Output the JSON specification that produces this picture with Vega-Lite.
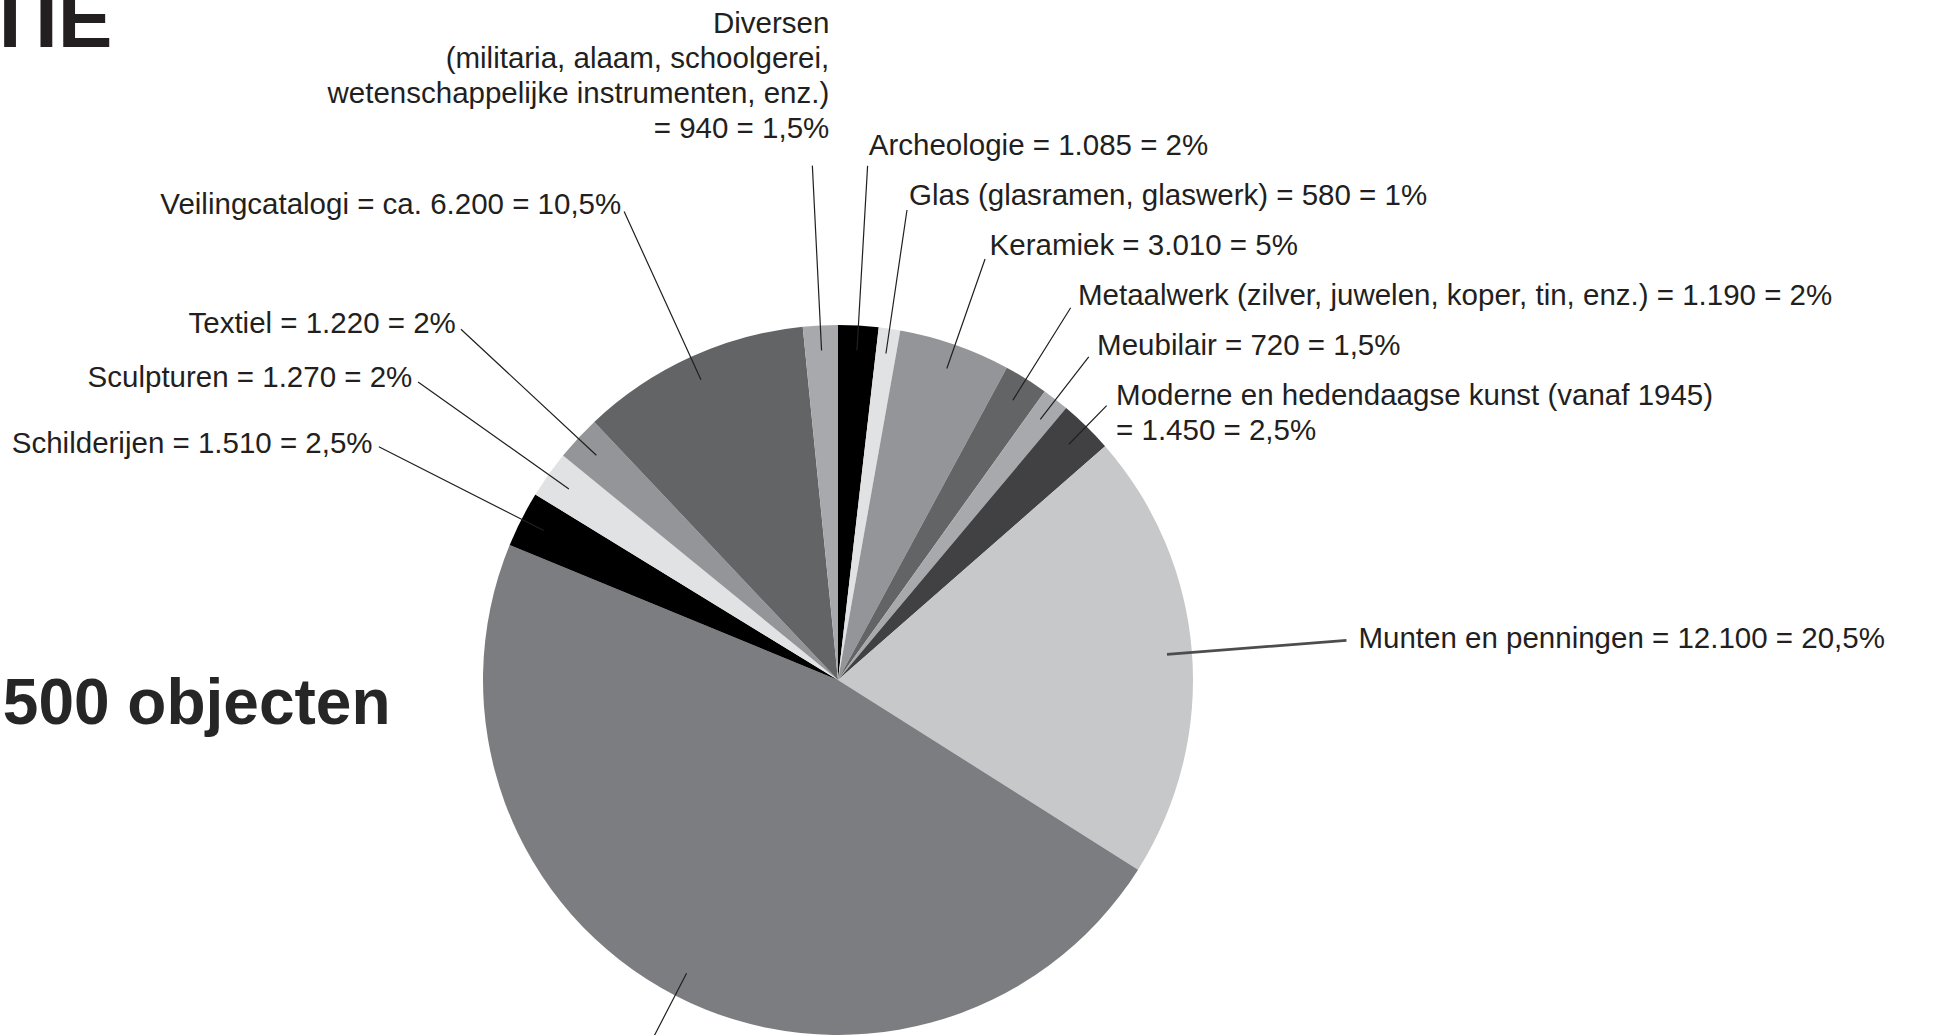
{
  "$schema": "https://vega.github.io/schema/vega-lite/v6.json",
  "autosize": {"type": "none"},
  "padding": {"left": 0, "top": 325, "right": 278, "bottom": 0},
  "width": 1676,
  "height": 710,
  "background": "#ffffff",
  "config": {"view": {"stroke": null}},
  "title": {
    "text": "TIE",
    "subtitle": ".500 objecten",
    "anchor": "start",
    "frame": "group",
    "dx": -15,
    "offset": -729,
    "font": "Liberation Sans",
    "fontSize": 82,
    "fontWeight": "bold",
    "color": "#231f20",
    "subtitleFont": "Liberation Sans",
    "subtitleFontSize": 64,
    "subtitleFontWeight": "bold",
    "subtitleColor": "#262626",
    "subtitlePadding": 609
  },
  "data": {
    "values": [
      {"categorie": "Archeologie", "aantal": 1085, "volgorde": 1, "label": "Archeologie = 1.085 = 2%"},
      {"categorie": "Glas", "aantal": 580, "volgorde": 2, "label": "Glas (glasramen, glaswerk) = 580 = 1%"},
      {"categorie": "Keramiek", "aantal": 3010, "volgorde": 3, "label": "Keramiek = 3.010 = 5%"},
      {"categorie": "Metaalwerk", "aantal": 1190, "volgorde": 4, "label": "Metaalwerk (zilver, juwelen, koper, tin, enz.) = 1.190 = 2%"},
      {"categorie": "Meubilair", "aantal": 720, "volgorde": 5, "label": "Meubilair = 720 = 1,5%"},
      {"categorie": "Moderne en hedendaagse kunst", "aantal": 1450, "volgorde": 6, "label": "Moderne en hedendaagse kunst (vanaf 1945)\n= 1.450 = 2,5%"},
      {"categorie": "Munten en penningen", "aantal": 12100, "volgorde": 7, "label": "Munten en penningen = 12.100 = 20,5%"},
      {"categorie": "Overige", "aantal": 28000, "volgorde": 8, "label": ""},
      {"categorie": "Schilderijen", "aantal": 1510, "volgorde": 9, "label": "Schilderijen = 1.510 = 2,5%"},
      {"categorie": "Sculpturen", "aantal": 1270, "volgorde": 10, "label": "Sculpturen = 1.270 = 2%"},
      {"categorie": "Textiel", "aantal": 1220, "volgorde": 11, "label": "Textiel = 1.220 = 2%"},
      {"categorie": "Veilingcatalogi", "aantal": 6200, "volgorde": 12, "label": "Veilingcatalogi = ca. 6.200 = 10,5%"},
      {"categorie": "Diversen", "aantal": 940, "volgorde": 13, "label": "Diversen\n(militaria, alaam, schoolgerei,\nwetenschappelijke instrumenten, enz.)\n= 940 = 1,5%"}
    ]
  },
  "encoding": {
    "theta": {"field": "aantal", "type": "quantitative", "stack": true},
    "order": {"field": "volgorde", "type": "quantitative"},
    "detail": {"field": "categorie", "type": "nominal"}
  },
  "layer": [
    {
      "mark": {"type": "arc", "radius": 355},
      "encoding": {
        "color": {
          "field": "categorie",
          "type": "nominal",
          "scale": {
            "domain": ["Archeologie", "Glas", "Keramiek", "Metaalwerk", "Meubilair", "Moderne en hedendaagse kunst", "Munten en penningen", "Overige", "Schilderijen", "Sculpturen", "Textiel", "Veilingcatalogi", "Diversen"],
            "range": ["#000000", "#e1e2e4", "#939598", "#636466", "#a7a9ac", "#414042", "#c7c8ca", "#7c7d81", "#000000", "#e1e2e4", "#939598", "#636466", "#a7a9ac"]
          },
          "legend": null
        }
      }
    },
    {
      "mark": {"type": "arc", "radius": 515, "radius2": 330, "padAngle": 3.1416, "fill": "transparent", "stroke": "#231f20", "strokeWidth": 1.2},
      "encoding": {"strokeOpacity": {"condition": {"test": "indexof(['Archeologie','Overige','Schilderijen','Sculpturen','Textiel','Veilingcatalogi','Diversen'], datum.categorie) >= 0", "value": 1}, "value": 0}}
    },
    {
      "mark": {"type": "arc", "radius": 510, "radius2": 330, "padAngle": 3.1416, "fill": "transparent", "stroke": "#4d4d4f", "strokeWidth": 2.6},
      "encoding": {"strokeOpacity": {"condition": {"test": "datum.categorie === 'Munten en penningen'", "value": 1}, "value": 0}}
    },
    {
      "mark": {"type": "arc", "radius": 475, "radius2": 330, "padAngle": 3.1416, "fill": "transparent", "stroke": "#231f20", "strokeWidth": 1.2},
      "encoding": {"strokeOpacity": {"condition": {"test": "datum.categorie === 'Glas'", "value": 1}, "value": 0}}
    },
    {
      "mark": {"type": "arc", "radius": 446, "radius2": 330, "padAngle": 3.1416, "fill": "transparent", "stroke": "#231f20", "strokeWidth": 1.2},
      "encoding": {"strokeOpacity": {"condition": {"test": "datum.categorie === 'Keramiek'", "value": 1}, "value": 0}}
    },
    {
      "mark": {"type": "arc", "radius": 439, "radius2": 330, "padAngle": 3.1416, "fill": "transparent", "stroke": "#231f20", "strokeWidth": 1.2},
      "encoding": {"strokeOpacity": {"condition": {"test": "datum.categorie === 'Metaalwerk'", "value": 1}, "value": 0}}
    },
    {
      "mark": {"type": "arc", "radius": 409, "radius2": 330, "padAngle": 3.1416, "fill": "transparent", "stroke": "#231f20", "strokeWidth": 1.2},
      "encoding": {"strokeOpacity": {"condition": {"test": "datum.categorie === 'Meubilair'", "value": 1}, "value": 0}}
    },
    {
      "mark": {"type": "arc", "radius": 384, "radius2": 330, "padAngle": 3.1416, "fill": "transparent", "stroke": "#231f20", "strokeWidth": 1.2},
      "encoding": {"strokeOpacity": {"condition": {"test": "datum.categorie === 'Moderne en hedendaagse kunst'", "value": 1}, "value": 0}}
    },
    {
      "mark": {"type": "text", "radius": 522, "align": "right", "baseline": "middle", "font": "Liberation Sans", "fontSize": 29.5, "color": "#231f20"},
      "encoding": {"text": {"condition": {"test": "indexof(['Schilderijen','Sculpturen','Textiel','Veilingcatalogi'], datum.categorie) >= 0", "field": "label"}, "value": ""}}
    },
    {
      "mark": {"type": "text", "radius": 656.8, "align": "right", "baseline": "middle", "dx": 24, "lineBreak": "\n", "lineHeight": 35, "font": "Liberation Sans", "fontSize": 29.5, "color": "#231f20"},
      "encoding": {"text": {"condition": {"test": "datum.categorie === 'Diversen'", "field": "label"}, "value": ""}}
    },
    {
      "mark": {"type": "text", "radius": 535, "align": "left", "baseline": "middle", "font": "Liberation Sans", "fontSize": 29.5, "color": "#231f20"},
      "encoding": {"text": {"condition": {"test": "datum.categorie === 'Archeologie'", "field": "label"}, "value": ""}}
    },
    {
      "mark": {"type": "text", "radius": 522, "align": "left", "baseline": "middle", "font": "Liberation Sans", "fontSize": 29.5, "color": "#231f20"},
      "encoding": {"text": {"condition": {"test": "datum.categorie === 'Munten en penningen'", "field": "label"}, "value": ""}}
    },
    {
      "mark": {"type": "text", "radius": 489.2, "align": "left", "baseline": "middle", "font": "Liberation Sans", "fontSize": 29.5, "color": "#231f20"},
      "encoding": {"text": {"condition": {"test": "datum.categorie === 'Glas'", "field": "label"}, "value": ""}}
    },
    {
      "mark": {"type": "text", "radius": 459.7, "align": "left", "baseline": "middle", "font": "Liberation Sans", "fontSize": 29.5, "color": "#231f20"},
      "encoding": {"text": {"condition": {"test": "datum.categorie === 'Keramiek'", "field": "label"}, "value": ""}}
    },
    {
      "mark": {"type": "text", "radius": 452.8, "align": "left", "baseline": "middle", "font": "Liberation Sans", "fontSize": 29.5, "color": "#231f20"},
      "encoding": {"text": {"condition": {"test": "datum.categorie === 'Metaalwerk'", "field": "label"}, "value": ""}}
    },
    {
      "mark": {"type": "text", "radius": 422.7, "align": "left", "baseline": "middle", "font": "Liberation Sans", "fontSize": 29.5, "color": "#231f20"},
      "encoding": {"text": {"condition": {"test": "datum.categorie === 'Meubilair'", "field": "label"}, "value": ""}}
    },
    {
      "mark": {"type": "text", "radius": 397.5, "align": "left", "baseline": "middle", "lineBreak": "\n", "lineHeight": 35, "font": "Liberation Sans", "fontSize": 29.5, "color": "#231f20"},
      "encoding": {"text": {"condition": {"test": "datum.categorie === 'Moderne en hedendaagse kunst'", "field": "label"}, "value": ""}}
    }
  ]
}
